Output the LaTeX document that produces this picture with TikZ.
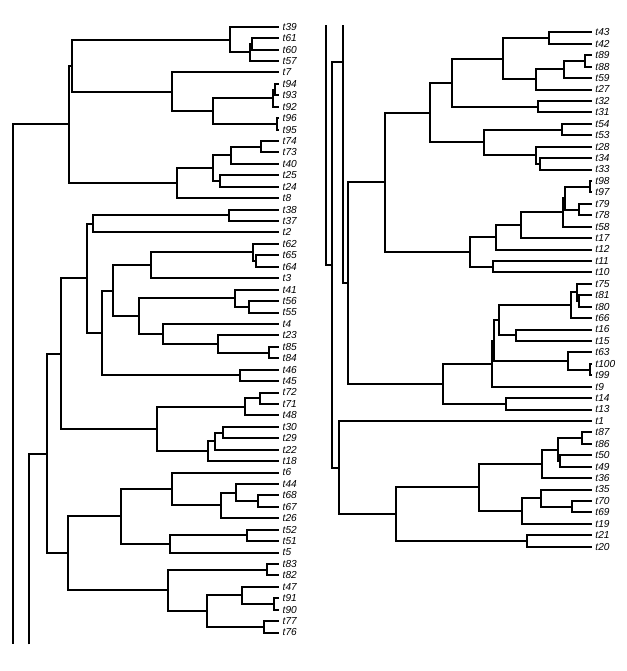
\documentclass[tikz,border=0pt]{standalone}
\usepackage{fontspec}
\setmainfont{Liberation Sans}
\usepackage{tikz}

\tikzset{
	tiplab/.style={anchor=west, inner xsep=2.6pt, inner ysep=0pt, font=\fontsize{7.6}{9}\selectfont\itshape},
	branch/.style={line width=1.5pt},
}

\begin{document}
\begin{tikzpicture}[x=0.75pt,y=0.75pt,yscale=-1,xscale=1]
	\useasboundingbox (0,0) rectangle (627,671);

	% Tip labels, left half
	\node[tiplab] (t39) at (279,26.7) {t39};
	\node[tiplab] (t61) at (279,38.1) {t61};
	\node[tiplab] (t60) at (279,49.6) {t60};
	\node[tiplab] (t57) at (279,61.0) {t57};
	\node[tiplab] (t7) at (279,72.4) {t7};
	\node[tiplab] (t94) at (279,83.9) {t94};
	\node[tiplab] (t93) at (279,95.3) {t93};
	\node[tiplab] (t92) at (279,106.7) {t92};
	\node[tiplab] (t96) at (279,118.1) {t96};
	\node[tiplab] (t95) at (279,129.6) {t95};
	\node[tiplab] (t74) at (279,141.0) {t74};
	\node[tiplab] (t73) at (279,152.4) {t73};
	\node[tiplab] (t40) at (279,163.9) {t40};
	\node[tiplab] (t25) at (279,175.3) {t25};
	\node[tiplab] (t24) at (279,186.7) {t24};
	\node[tiplab] (t8) at (279,198.2) {t8};
	\node[tiplab] (t38) at (279,209.6) {t38};
	\node[tiplab] (t37) at (279,221.0) {t37};
	\node[tiplab] (t2) at (279,232.4) {t2};
	\node[tiplab] (t62) at (279,243.9) {t62};
	\node[tiplab] (t65) at (279,255.3) {t65};
	\node[tiplab] (t64) at (279,266.7) {t64};
	\node[tiplab] (t3) at (279,278.2) {t3};
	\node[tiplab] (t41) at (279,289.6) {t41};
	\node[tiplab] (t56) at (279,301.0) {t56};
	\node[tiplab] (t55) at (279,312.5) {t55};
	\node[tiplab] (t4) at (279,323.9) {t4};
	\node[tiplab] (t23) at (279,335.3) {t23};
	\node[tiplab] (t85) at (279,346.7) {t85};
	\node[tiplab] (t84) at (279,358.2) {t84};
	\node[tiplab] (t46) at (279,369.6) {t46};
	\node[tiplab] (t45) at (279,381.0) {t45};
	\node[tiplab] (t72) at (279,392.5) {t72};
	\node[tiplab] (t71) at (279,403.9) {t71};
	\node[tiplab] (t48) at (279,415.3) {t48};
	\node[tiplab] (t30) at (279,426.8) {t30};
	\node[tiplab] (t29) at (279,438.2) {t29};
	\node[tiplab] (t22) at (279,449.6) {t22};
	\node[tiplab] (t18) at (279,461.0) {t18};
	\node[tiplab] (t6) at (279,472.5) {t6};
	\node[tiplab] (t44) at (279,483.9) {t44};
	\node[tiplab] (t68) at (279,495.3) {t68};
	\node[tiplab] (t67) at (279,506.8) {t67};
	\node[tiplab] (t26) at (279,518.2) {t26};
	\node[tiplab] (t52) at (279,529.6) {t52};
	\node[tiplab] (t51) at (279,541.0) {t51};
	\node[tiplab] (t5) at (279,552.5) {t5};
	\node[tiplab] (t83) at (279,563.9) {t83};
	\node[tiplab] (t82) at (279,575.3) {t82};
	\node[tiplab] (t47) at (279,586.8) {t47};
	\node[tiplab] (t91) at (279,598.2) {t91};
	\node[tiplab] (t90) at (279,609.6) {t90};
	\node[tiplab] (t77) at (279,621.1) {t77};
	\node[tiplab] (t76) at (279,632.5) {t76};

	% Tip labels, right half
	\node[tiplab] (t43) at (591.7,32.3) {t43};
	\node[tiplab] (t42) at (591.7,43.7) {t42};
	\node[tiplab] (t89) at (591.7,55.2) {t89};
	\node[tiplab] (t88) at (591.7,66.6) {t88};
	\node[tiplab] (t59) at (591.7,78.0) {t59};
	\node[tiplab] (t27) at (591.7,89.5) {t27};
	\node[tiplab] (t32) at (591.7,100.9) {t32};
	\node[tiplab] (t31) at (591.7,112.3) {t31};
	\node[tiplab] (t54) at (591.7,123.7) {t54};
	\node[tiplab] (t53) at (591.7,135.2) {t53};
	\node[tiplab] (t28) at (591.7,146.6) {t28};
	\node[tiplab] (t34) at (591.7,158.0) {t34};
	\node[tiplab] (t33) at (591.7,169.5) {t33};
	\node[tiplab] (t98) at (591.7,180.9) {t98};
	\node[tiplab] (t97) at (591.7,192.3) {t97};
	\node[tiplab] (t79) at (591.7,203.8) {t79};
	\node[tiplab] (t78) at (591.7,215.2) {t78};
	\node[tiplab] (t58) at (591.7,226.6) {t58};
	\node[tiplab] (t17) at (591.7,238.0) {t17};
	\node[tiplab] (t12) at (591.7,249.5) {t12};
	\node[tiplab] (t11) at (591.7,260.9) {t11};
	\node[tiplab] (t10) at (591.7,272.3) {t10};
	\node[tiplab] (t75) at (591.7,283.8) {t75};
	\node[tiplab] (t81) at (591.7,295.2) {t81};
	\node[tiplab] (t80) at (591.7,306.6) {t80};
	\node[tiplab] (t66) at (591.7,318.1) {t66};
	\node[tiplab] (t16) at (591.7,329.5) {t16};
	\node[tiplab] (t15) at (591.7,340.9) {t15};
	\node[tiplab] (t63) at (591.7,352.3) {t63};
	\node[tiplab] (t100) at (591.7,363.8) {t100};
	\node[tiplab] (t99) at (591.7,375.2) {t99};
	\node[tiplab] (t9) at (591.7,386.6) {t9};
	\node[tiplab] (t14) at (591.7,398.1) {t14};
	\node[tiplab] (t13) at (591.7,409.5) {t13};
	\node[tiplab] (t1) at (591.7,420.9) {t1};
	\node[tiplab] (t87) at (591.7,432.4) {t87};
	\node[tiplab] (t86) at (591.7,443.8) {t86};
	\node[tiplab] (t50) at (591.7,455.2) {t50};
	\node[tiplab] (t49) at (591.7,466.6) {t49};
	\node[tiplab] (t36) at (591.7,478.1) {t36};
	\node[tiplab] (t35) at (591.7,489.5) {t35};
	\node[tiplab] (t70) at (591.7,500.9) {t70};
	\node[tiplab] (t69) at (591.7,512.4) {t69};
	\node[tiplab] (t19) at (591.7,523.8) {t19};
	\node[tiplab] (t21) at (591.7,535.2) {t21};
	\node[tiplab] (t20) at (591.7,546.7) {t20};

	% Internal nodes, left half
	\coordinate (a61) at (251.7,43.8);
	\coordinate (a57) at (250,52.4);
	\coordinate (a39) at (230,39.6);
	\coordinate (a94) at (275,89.6);
	\coordinate (a92) at (273.3,98.1);
	\coordinate (a96) at (276.7,123.9);
	\coordinate (a95) at (213,111.0);
	\coordinate (a7) at (172,91.7);
	\coordinate (a1) at (71.7,65.6);
	\coordinate (a74) at (261,146.7);
	\coordinate (a40) at (231,155.3);
	\coordinate (a25) at (220,181.0);
	\coordinate (a24) at (213,168.1);
	\coordinate (a8) at (177,183.2);
	\coordinate (nA) at (69,124.4);
	\coordinate (b38) at (229,215.3);
	\coordinate (b2) at (92.7,223.9);
	\coordinate (b65) at (255.7,261.0);
	\coordinate (b62) at (252.7,252.4);
	\coordinate (b3) at (151,265.3);
	\coordinate (b56) at (248.7,306.7);
	\coordinate (b41) at (235,298.2);
	\coordinate (b85) at (269,352.5);
	\coordinate (b23) at (218,343.9);
	\coordinate (b4) at (163,333.9);
	\coordinate (b55) at (138.7,316.0);
	\coordinate (b64) at (113,290.7);
	\coordinate (b46) at (240,375.3);
	\coordinate (b45) at (101.7,333.0);
	\coordinate (nF1) at (86.7,278.4);
	\coordinate (b72) at (260,398.2);
	\coordinate (b48) at (245,406.8);
	\coordinate (b30) at (222.7,432.5);
	\coordinate (b22) at (215,441.0);
	\coordinate (b18) at (207.7,451.0);
	\coordinate (nF2) at (157.3,428.9);
	\coordinate (nF) at (60.7,353.7);
	\coordinate (c68) at (258,501.0);
	\coordinate (c44) at (236,492.5);
	\coordinate (c26) at (221,505.3);
	\coordinate (c6) at (172,488.9);
	\coordinate (c52) at (247,535.3);
	\coordinate (c5) at (170,543.9);
	\coordinate (nG1) at (120.7,516.4);
	\coordinate (c83) at (267,569.6);
	\coordinate (c91) at (274,603.9);
	\coordinate (c47) at (242,595.3);
	\coordinate (c77) at (264,626.8);
	\coordinate (c76) at (207,611.1);
	\coordinate (nG2) at (168,590.3);
	\coordinate (nG) at (67.7,553.4);
	\coordinate (nE) at (46.7,453.5);
	\coordinate (root) at (12.7,500.5);
	% where the two long branches leave the left half and enter the right one
	\coordinate (rootB) at (12.7,644.3);
	\coordinate (rootT) at (325.7,25);
	\coordinate (nCB) at (29,644.3);
	\coordinate (nCT) at (342.7,25);

	% Internal nodes, right half
	\coordinate (d43) at (548.7,38.0);
	\coordinate (d89) at (585.3,60.9);
	\coordinate (d59) at (564,69.4);
	\coordinate (d27) at (536,79.4);
	\coordinate (d42) at (502.7,58.7);
	\coordinate (d32) at (538,106.6);
	\coordinate (d31) at (452,82.7);
	\coordinate (d54) at (561.7,129.5);
	\coordinate (d34) at (540,163.7);
	\coordinate (d28) at (536,155.2);
	\coordinate (d53) at (483.7,142.3);
	\coordinate (nH1) at (429.7,112.5);
	\coordinate (d98) at (590,186.6);
	\coordinate (d79) at (579,209.5);
	\coordinate (d97) at (564.5,198.0);
	\coordinate (d58) at (563.3,212.3);
	\coordinate (d17) at (520.7,225.2);
	\coordinate (d12) at (495.7,237.3);
	\coordinate (d11) at (492.7,266.6);
	\coordinate (nH2) at (470,252.0);
	\coordinate (nH) at (385,182.2);
	\coordinate (e81) at (579,300.9);
	\coordinate (e75) at (576.7,292.3);
	\coordinate (e66) at (570.7,305.2);
	\coordinate (e16) at (515.7,335.2);
	\coordinate (eP) at (499,320.2);
	\coordinate (e100) at (590,369.5);
	\coordinate (e63) at (567.7,360.9);
	\coordinate (ePQ) at (494,340.6);
	\coordinate (e9) at (492,363.6);
	\coordinate (e14) at (505.7,403.8);
	\coordinate (nJ) at (442.7,383.7);
	\coordinate (nI) at (347.7,283.0);
	\coordinate (nC) at (342.7,62.4);
	\coordinate (f86) at (582.3,438.1);
	\coordinate (f49) at (559.7,460.9);
	\coordinate (f50) at (557.7,449.5);
	\coordinate (f36) at (541.7,463.8);
	\coordinate (f70) at (572,506.6);
	\coordinate (f35) at (541,498.1);
	\coordinate (f19) at (521.7,510.9);
	\coordinate (f3619) at (479,487.4);
	\coordinate (f21) at (527,540.9);
	\coordinate (f20) at (396,514.1);
	\coordinate (nD) at (339,467.5);
	\coordinate (nB) at (332.3,265.0);

	% Branches, left half
	\draw[branch] (a61) |- (t61.west) (a61) |- (t60.west);
	\draw[branch] (a57) |- (a61) (a57) |- (t57.west);
	\draw[branch] (a39) |- (t39.west) (a39) |- (a57);
	\draw[branch] (a94) |- (t94.west) (a94) |- (t93.west);
	\draw[branch] (a92) |- (a94) (a92) |- (t92.west);
	\draw[branch] (a96) |- (t96.west) (a96) |- (t95.west);
	\draw[branch] (a95) |- (a92) (a95) |- (a96);
	\draw[branch] (a7) |- (t7.west) (a7) |- (a95);
	\draw[branch] (a1) |- (a39) (a1) |- (a7);
	\draw[branch] (a74) |- (t74.west) (a74) |- (t73.west);
	\draw[branch] (a40) |- (a74) (a40) |- (t40.west);
	\draw[branch] (a25) |- (t25.west) (a25) |- (t24.west);
	\draw[branch] (a24) |- (a40) (a24) |- (a25);
	\draw[branch] (a8) |- (a24) (a8) |- (t8.west);
	\draw[branch] (nA) |- (a1) (nA) |- (a8);
	\draw[branch] (b38) |- (t38.west) (b38) |- (t37.west);
	\draw[branch] (b2) |- (b38) (b2) |- (t2.west);
	\draw[branch] (b65) |- (t65.west) (b65) |- (t64.west);
	\draw[branch] (b62) |- (t62.west) (b62) |- (b65);
	\draw[branch] (b3) |- (b62) (b3) |- (t3.west);
	\draw[branch] (b56) |- (t56.west) (b56) |- (t55.west);
	\draw[branch] (b41) |- (t41.west) (b41) |- (b56);
	\draw[branch] (b85) |- (t85.west) (b85) |- (t84.west);
	\draw[branch] (b23) |- (t23.west) (b23) |- (b85);
	\draw[branch] (b4) |- (t4.west) (b4) |- (b23);
	\draw[branch] (b55) |- (b41) (b55) |- (b4);
	\draw[branch] (b64) |- (b3) (b64) |- (b55);
	\draw[branch] (b46) |- (t46.west) (b46) |- (t45.west);
	\draw[branch] (b45) |- (b64) (b45) |- (b46);
	\draw[branch] (nF1) |- (b2) (nF1) |- (b45);
	\draw[branch] (b72) |- (t72.west) (b72) |- (t71.west);
	\draw[branch] (b48) |- (b72) (b48) |- (t48.west);
	\draw[branch] (b30) |- (t30.west) (b30) |- (t29.west);
	\draw[branch] (b22) |- (b30) (b22) |- (t22.west);
	\draw[branch] (b18) |- (b22) (b18) |- (t18.west);
	\draw[branch] (nF2) |- (b48) (nF2) |- (b18);
	\draw[branch] (nF) |- (nF1) (nF) |- (nF2);
	\draw[branch] (c68) |- (t68.west) (c68) |- (t67.west);
	\draw[branch] (c44) |- (t44.west) (c44) |- (c68);
	\draw[branch] (c26) |- (c44) (c26) |- (t26.west);
	\draw[branch] (c6) |- (t6.west) (c6) |- (c26);
	\draw[branch] (c52) |- (t52.west) (c52) |- (t51.west);
	\draw[branch] (c5) |- (c52) (c5) |- (t5.west);
	\draw[branch] (nG1) |- (c6) (nG1) |- (c5);
	\draw[branch] (c83) |- (t83.west) (c83) |- (t82.west);
	\draw[branch] (c91) |- (t91.west) (c91) |- (t90.west);
	\draw[branch] (c47) |- (t47.west) (c47) |- (c91);
	\draw[branch] (c77) |- (t77.west) (c77) |- (t76.west);
	\draw[branch] (c76) |- (c47) (c76) |- (c77);
	\draw[branch] (nG2) |- (c83) (nG2) |- (c76);
	\draw[branch] (nG) |- (nG1) (nG) |- (nG2);
	\draw[branch] (nE) |- (nF) (nE) |- (nG);
	\draw[branch] (root) |- (nA) (root) -- (rootB);
	\draw[branch] (nCB) |- (nE);

	% Branches, right half
	\draw[branch] (rootT) |- (nB);
	\draw[branch] (nC) -- (nCT);
	\draw[branch] (d43) |- (t43.west) (d43) |- (t42.west);
	\draw[branch] (d89) |- (t89.west) (d89) |- (t88.west);
	\draw[branch] (d59) |- (d89) (d59) |- (t59.west);
	\draw[branch] (d27) |- (d59) (d27) |- (t27.west);
	\draw[branch] (d42) |- (d43) (d42) |- (d27);
	\draw[branch] (d32) |- (t32.west) (d32) |- (t31.west);
	\draw[branch] (d31) |- (d42) (d31) |- (d32);
	\draw[branch] (d54) |- (t54.west) (d54) |- (t53.west);
	\draw[branch] (d34) |- (t34.west) (d34) |- (t33.west);
	\draw[branch] (d28) |- (t28.west) (d28) |- (d34);
	\draw[branch] (d53) |- (d54) (d53) |- (d28);
	\draw[branch] (nH1) |- (d31) (nH1) |- (d53);
	\draw[branch] (d98) |- (t98.west) (d98) |- (t97.west);
	\draw[branch] (d79) |- (t79.west) (d79) |- (t78.west);
	\draw[branch] (d97) |- (d98) (d97) |- (d79);
	\draw[branch] (d58) |- (d97) (d58) |- (t58.west);
	\draw[branch] (d17) |- (d58) (d17) |- (t17.west);
	\draw[branch] (d12) |- (d17) (d12) |- (t12.west);
	\draw[branch] (d11) |- (t11.west) (d11) |- (t10.west);
	\draw[branch] (nH2) |- (d12) (nH2) |- (d11);
	\draw[branch] (nH) |- (nH1) (nH) |- (nH2);
	\draw[branch] (e81) |- (t81.west) (e81) |- (t80.west);
	\draw[branch] (e75) |- (t75.west) (e75) |- (e81);
	\draw[branch] (e66) |- (e75) (e66) |- (t66.west);
	\draw[branch] (e16) |- (t16.west) (e16) |- (t15.west);
	\draw[branch] (eP) |- (e66) (eP) |- (e16);
	\draw[branch] (e100) |- (t100.west) (e100) |- (t99.west);
	\draw[branch] (e63) |- (t63.west) (e63) |- (e100);
	\draw[branch] (ePQ) |- (eP) (ePQ) |- (e63);
	\draw[branch] (e9) |- (ePQ) (e9) |- (t9.west);
	\draw[branch] (e14) |- (t14.west) (e14) |- (t13.west);
	\draw[branch] (nJ) |- (e9) (nJ) |- (e14);
	\draw[branch] (nI) |- (nH) (nI) |- (nJ);
	\draw[branch] (nC) |- (nI);
	\draw[branch] (f86) |- (t87.west) (f86) |- (t86.west);
	\draw[branch] (f49) |- (t50.west) (f49) |- (t49.west);
	\draw[branch] (f50) |- (f86) (f50) |- (f49);
	\draw[branch] (f36) |- (f50) (f36) |- (t36.west);
	\draw[branch] (f70) |- (t70.west) (f70) |- (t69.west);
	\draw[branch] (f35) |- (t35.west) (f35) |- (f70);
	\draw[branch] (f19) |- (f35) (f19) |- (t19.west);
	\draw[branch] (f3619) |- (f36) (f3619) |- (f19);
	\draw[branch] (f21) |- (t21.west) (f21) |- (t20.west);
	\draw[branch] (f20) |- (f3619) (f20) |- (f21);
	\draw[branch] (nD) |- (t1.west) (nD) |- (f20);
	\draw[branch] (nB) |- (nC) (nB) |- (nD);
\end{tikzpicture}
\end{document}
